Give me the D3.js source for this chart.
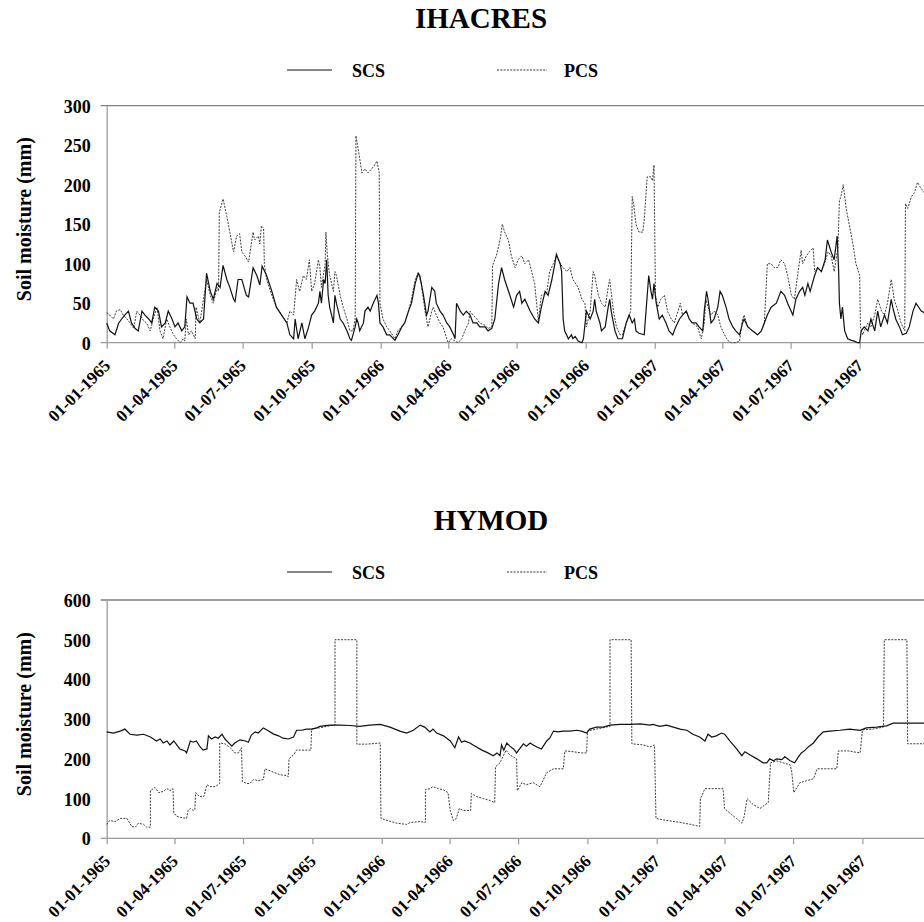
<!DOCTYPE html>
<html>
<head>
<meta charset="utf-8">
<script src="https://cdn.jsdelivr.net/npm/d3@7"></script>
<style>
  body { margin: 0; background: #fff; }
  svg text { font-family: "Liberation Serif", "Times New Roman", serif; font-weight: bold; fill: #000; }
</style>
</head>
<body>
<svg id="chart" width="924" height="922"></svg>
<script>
// values are [days since 01-01-1965, soil moisture (mm)]
var ihacresScs = [
  [0,25],[4,15],[11,10],[16,25],[20,30],[24,35],[29,40],[33,25],[38,18],[42,15],[47,40],[51,35],[56,30],[60,25],[64,45],[69,40],[73,20],[78,25],[82,40],[87,30],[91,20],[95,25],[100,15],[104,20],[107,58],[111,50],[115,50],[120,30],[124,25],[129,30],[133,88],[138,65],[142,55],[147,75],[151,70],[155,98],[160,80],[164,70],[169,55],[171,52],[175,80],[180,80],[186,60],[189,58],[195,95],[200,85],[204,73],[207,97],[213,85],[220,65],[226,45],[233,35],[240,25],[244,10],[249,5],[251,30],[255,5],[260,25],[264,5],[269,20],[273,35],[277,40],[282,50],
  [284,65],[286,50],[289,80],[291,75],[293,105],[295,60],[297,45],[302,25],[304,60],[306,50],[311,30],[315,25],[320,15],[324,5],[326,3],[331,20],[333,30],[335,25],[337,15],[342,25],[344,40],[348,45],[351,40],[355,50],[360,60],[362,50],[364,25],[368,20],[373,10],[377,10],[384,3],[388,10],[393,20],[397,25],[402,40],[406,50],[411,75],[415,88],[417,85],[422,60],[426,35],[428,40],[433,70],[437,65],[439,50],[444,40],[448,35],[453,25],[457,20],[462,10],[464,5],[466,50],[471,40],[475,35],[479,40],[484,35],[488,25],[493,25],[497,20],[504,20],[508,15],[513,18],[517,30],[522,75],[526,95],[530,80],[537,60],[542,45],[546,60],[550,65],[553,50],[557,55],[564,40],[570,30],[575,25],[579,45],[584,65],[588,60],[593,80],[597,100],[599,112],[604,100],[606,90],[608,30],[610,15],[615,5],[619,10],[621,5],[624,8],[628,2],[633,0],[635,5],[639,40],[644,30],[648,40],[650,55],[652,40],[657,25],[659,15],[664,20],[668,45],[670,55],[672,40],[677,15],[681,5],
  [687,5],[692,25],[696,35],[700,25],[703,30],[705,15],[709,12],[716,10],[722,85],[725,65],[727,55],[729,75],[732,50],[736,30],[740,35],[745,25],[749,15],[754,10],[758,20],[763,30],[767,35],[772,40],[776,30],[780,25],[785,25],[789,20],[794,15],[796,40],[799,65],[801,55],[805,25],[809,30],[814,45],[817,65],[820,60],[825,45],[829,30],[834,20],[838,15],[843,10],[847,25],[849,30],[854,20],[860,15],[867,10],[872,15],[876,25],[880,35],[885,45],[892,50],[898,65],[903,60],[907,50],[914,35],[918,55],[923,65],[927,70],[930,60],[934,75],[937,65],[943,85],[947,95],[952,90],[957,105],[960,130],[965,115],[969,105],[973,135],[975,90],[976,50],[978,30],[980,45],[983,15],[987,5],[992,3],[996,2],[1000,0],[1003,0],[1005,15],[1009,20],[1014,15],[1018,30],[1023,15],[1027,40],[1031,20],[1036,35],[1040,25],[1045,55],[1047,45],[1051,30],[1056,20],[1060,10],[1065,12],[1069,20],[1074,40],[1078,50],[1085,40],[1089,38],[1094,35]
];

var ihacresPcs = [
  [0,38],[4,35],[9,30],[13,40],[18,42],[22,35],[27,30],[31,25],[36,18],[40,40],[44,35],[49,28],[53,25],[58,15],[62,30],[67,45],[71,15],[75,5],[80,30],[84,20],[89,10],[93,5],[98,0],[102,5],[104,2],[106,30],[109,10],[113,15],[118,5],[119,45],[124,25],[133,80],[138,60],[142,50],[147,70],[149,65],[150,165],[155,182],[160,160],[164,140],[169,115],[173,135],[177,138],[180,115],[184,110],[189,102],[195,140],[197,130],[202,135],[204,125],[206,148],[209,145],[210,100],[213,80],[220,60],[226,45],[233,35],[240,25],[244,40],[249,35],[253,80],[257,65],[262,85],[266,80],[270,105],[273,65],[277,75],[282,105],
  [284,95],[286,70],[291,100],[292,140],[294,110],[297,85],[302,65],[304,90],[306,85],[311,60],[315,45],[320,30],[324,15],[328,15],[331,30],[332,262],[335,245],[340,215],[344,220],[348,215],[353,220],[357,225],[360,230],[363,215],[364,50],[368,30],[373,20],[377,15],[384,5],[388,15],[393,20],[397,25],[402,40],[406,55],[411,80],[415,88],[419,75],[424,40],[428,20],[433,40],[435,45],[439,35],[444,25],[448,20],[453,5],[455,0],[459,5],[464,2],[468,0],[473,5],[477,15],[482,25],[484,40],[488,35],[493,30],[497,25],[504,22],[508,18],[513,20],[514,98],[519,110],[524,130],[527,150],[530,140],[535,130],[539,110],[544,95],[548,105],[553,110],[557,100],[562,105],[566,90],[570,75],[575,28],[579,60],[586,62],[590,90],[595,100],[599,110],[604,100],[608,95],[613,90],[617,95],[621,80],[628,70],[633,55],[637,50],[639,20],[644,40],[648,90],[650,85],[655,60],[659,50],[664,45],[668,70],[670,80],[675,40],[679,20],[684,10],
  [687,10],[692,25],[696,35],[698,40],[700,185],[702,175],[705,150],[709,140],[714,140],[716,155],[720,210],[725,210],[727,205],[729,225],[731,60],[734,45],[738,55],[743,60],[747,40],[752,30],[756,25],[761,40],[764,50],[767,35],[772,40],[776,30],[780,25],[787,20],[792,5],[796,25],[798,55],[801,45],[805,35],[809,40],[814,35],[818,20],[823,10],[827,3],[832,0],[838,0],[843,2],[847,30],[849,35],[854,20],[861,15],[867,10],[872,15],[876,25],[880,100],[885,100],[889,95],[894,95],[898,105],[903,100],[907,85],[912,60],[916,55],[921,90],[925,117],[927,100],[932,110],[936,115],[941,120],[943,90],[947,95],[952,90],[956,100],[961,115],[965,110],[969,90],[974,120],[976,180],[978,185],[981,200],[985,170],[989,150],[994,125],[998,100],[1003,85],[1004,20],[1007,10],[1009,15],[1014,25],[1018,20],[1023,35],[1027,55],[1032,40],[1036,35],[1040,50],[1045,80],[1049,55],[1054,40],[1058,25],[1063,15],[1064,176],[1067,170],[1072,185],[1076,190],[1080,203],[1085,195],[1089,190],[1094,185]
];

var hymodScs = [
  [0,268],[9,265],[18,270],[24,275],[31,262],[40,260],[49,262],[58,255],[62,250],[66,245],[71,250],[75,240],[80,245],[84,235],[89,245],[93,235],[97,225],[104,220],[106,215],[111,245],[115,242],[119,245],[124,230],[128,222],[133,225],[135,258],[139,250],[144,255],[148,252],[153,262],[157,250],[161,242],[166,232],[170,240],[177,248],[184,245],[188,242],[192,260],[197,268],[201,265],[208,278],[215,270],[221,263],[228,258],[234,252],[241,250],[248,255],[252,272],[259,272],[265,275],[272,275],[279,278],
  [283,282],[296,285],[310,285],[323,284],[336,282],[349,285],[363,287],[376,280],[389,270],[398,265],[407,272],[416,285],[422,280],[429,268],[433,275],[438,265],[447,258],[456,245],[462,228],[467,255],[471,242],[475,245],[482,240],[489,232],[498,222],[506,215],[513,208],[518,215],[522,208],[524,235],[527,222],[531,240],[535,232],[540,225],[544,215],[548,225],[553,238],[557,232],[562,240],[566,235],[571,230],[577,225],[584,245],[588,252],[593,270],[599,268],[606,270],[615,270],[624,272],[630,270],[637,265],[641,275],[650,280],[659,280],[668,285],[681,287],
  [694,287],[708,288],[721,285],[725,287],[734,282],[743,285],[752,280],[761,275],[770,272],[778,262],[787,255],[794,245],[798,262],[803,255],[809,258],[816,265],[820,262],[827,245],[836,225],[843,208],[847,218],[854,210],[863,200],[871,190],[876,190],[880,200],[885,195],[889,200],[896,198],[900,205],[907,195],[913,190],[918,205],[922,215],[927,222],[931,230],[938,240],[944,255],[951,268],[960,270],[973,272],[986,275],[1000,272],[1008,278],[1022,280],[1035,283],[1044,290],[1062,290],[1084,290],[1094,290]
];

var hymodPcs = [
  [0,35],[4,45],[11,42],[18,50],[27,50],[33,30],[38,28],[42,38],[49,35],[53,28],[58,28],[58,120],[64,128],[69,115],[75,118],[80,125],[84,120],[88,125],[89,65],[93,55],[100,52],[106,50],[108,70],[111,75],[115,70],[117,72],[118,115],[123,105],[129,105],[133,135],[137,130],[144,130],[150,138],[150,240],[157,238],[164,228],[170,215],[175,215],[179,228],[180,143],[186,138],[190,138],[195,148],[201,145],[208,148],[210,175],[217,170],[223,165],[230,160],[239,158],[241,155],[242,200],[248,210],[252,222],[259,222],[271,222],[272,275],[279,278],
  [283,278],[292,282],[303,285],[303,500],[332,500],[332,237],[345,237],[363,240],[364,50],[372,45],[385,38],[398,35],[403,40],[416,42],[423,40],[423,123],[429,125],[433,130],[440,125],[447,122],[453,115],[456,70],[460,45],[464,50],[468,75],[473,70],[483,70],[484,113],[491,105],[500,100],[509,95],[515,90],[516,180],[522,190],[530,222],[535,210],[544,200],[545,120],[551,140],[557,135],[566,140],[575,130],[584,165],[593,175],[606,175],[608,220],[619,218],[630,215],[637,215],[638,270],[650,275],[663,280],[668,282],[668,500],[681,500],
  [696,500],[697,238],[712,235],[721,230],[727,235],[729,50],[743,45],[761,40],[775,35],[787,30],[788,100],[794,125],[805,125],[818,125],[820,75],[829,60],[836,50],[843,38],[846,55],[850,100],[858,85],[867,75],[878,90],[881,190],[889,195],[898,190],[907,185],[909,170],[912,115],[920,140],[929,145],[938,150],[943,175],[955,175],[969,175],[971,220],[984,220],[1000,215],[1003,273],[1017,275],[1031,280],[1032,500],[1050,500],[1062,500],[1063,238],[1084,238],[1094,238]
];

var seriesNames = ["SCS", "PCS"];
var ihacresTicks = [0, 50, 100, 150, 200, 250, 300];
var hymodTicks = [0, 100, 200, 300, 400, 500, 600];
var startDay = Date.UTC(1965, 0, 1);
var endDay = Date.UTC(1967, 11, 31);
var serif = "'Liberation Serif', 'Times New Roman', serif";

function toDate(d) {
    return new Date(startDay + d * 864e5);
}

var svg = d3.select("#chart");
svg.append("rect").attr("width", 924).attr("height", 922).attr("fill", "#fff");

function drawPanel(opt) {
    var x = d3.scaleUtc()
        .domain([new Date(startDay), new Date(endDay)])
        .range([opt.left, opt.right]);
    var y = d3.scaleLinear()
        .domain([0, opt.ticks[opt.ticks.length - 1]])
        .range([opt.bottom, opt.top]);

    // title
    svg.append("text")
        .attr("x", opt.titleX).attr("y", opt.titleY)
        .attr("text-anchor", "middle")
        .style("font-size", "29px")
        .text(opt.title);

    // legend
    var legend = [
        { name: seriesNames[0], x1: 287, x2: 332, tx: 352, dash: null },
        { name: seriesNames[1], x1: opt.pcsX1, x2: 547, tx: 564, dash: "2,1.3" }
    ];
    legend.forEach(function(l) {
        svg.append("line")
            .attr("x1", l.x1).attr("x2", l.x2)
            .attr("y1", opt.legendY).attr("y2", opt.legendY)
            .attr("stroke", l.dash ? "#333" : "#111")
            .attr("stroke-width", 1)
            .attr("stroke-dasharray", l.dash);
        svg.append("text")
            .attr("x", l.tx).attr("y", opt.legendY + 7)
            .style("font-size", "18px")
            .text(l.name);
    });

    // y axis title
    svg.append("text")
        .attr("transform", "translate(31," + ((opt.top + opt.bottom) / 2 - 5) + ") rotate(-90)")
        .attr("text-anchor", "middle")
        .style("font-size", "20px")
        .text("Soil moisture (mm)");

    // top border of the plot area
    svg.append("line")
        .attr("x1", opt.left - 6).attr("x2", 924)
        .attr("y1", opt.top).attr("y2", opt.top)
        .attr("stroke", "#808080").attr("stroke-width", 1.3);

    var yAxis = svg.append("g")
        .attr("transform", "translate(" + opt.left + ",0)")
        .attr("font-family", serif)
        .call(d3.axisLeft(y).tickValues(opt.ticks).tickSize(0).tickPadding(16));
    yAxis.select(".domain").attr("stroke", "#9a9a9a").attr("stroke-width", 1.3);
    yAxis.selectAll("text").style("font-size", "18px").attr("dy", "0.36em");

    var xAxis = svg.append("g")
        .attr("transform", "translate(0," + opt.bottom + ")")
        .attr("font-family", serif)
        .call(d3.axisBottom(x)
            .tickValues(d3.utcMonth.every(3).range(new Date(startDay), new Date(endDay)))
            .tickFormat(d3.utcFormat("%d-%m-%Y"))
            .tickSize(6).tickSizeOuter(0));
    xAxis.select(".domain").remove();
    xAxis.selectAll(".tick line").attr("stroke", "#9a9a9a").attr("stroke-width", 1.2);
    xAxis.selectAll("text")
        .style("font-size", "17px")
        .attr("text-anchor", "end")
        .attr("dy", null)
        .attr("y", 0)
        .attr("transform", "translate(4,24) rotate(-45)");

    // zero line, extended a little to the left of the y axis
    svg.append("line")
        .attr("x1", opt.left - 6).attr("x2", 924)
        .attr("y1", opt.bottom).attr("y2", opt.bottom)
        .attr("stroke", "#9a9a9a").attr("stroke-width", 1.3);

    var line = d3.line()
        .x(function(d) { return x(toDate(d[0])); })
        .y(function(d) { return y(d[1]); });

    svg.append("path")
        .datum(opt.pcs)
        .attr("fill", "none")
        .attr("stroke", "#3a3a3a")
        .attr("stroke-width", 1)
        .attr("stroke-dasharray", "2,1.3")
        .attr("d", line);

    svg.append("path")
        .datum(opt.scs)
        .attr("fill", "none")
        .attr("stroke", "#111")
        .attr("stroke-width", 1.2)
        .attr("d", line);
}

drawPanel({
    title: "IHACRES", titleX: 481, titleY: 28, legendY: 70, pcsX1: 497,
    left: 106.7, right: 928, top: 105.7, bottom: 342.7,
    ticks: ihacresTicks, scs: ihacresScs, pcs: ihacresPcs
});

drawPanel({
    title: "HYMOD", titleX: 491, titleY: 530, legendY: 572, pcsX1: 507,
    left: 106.7, right: 931, top: 600, bottom: 838.3,
    ticks: hymodTicks, scs: hymodScs, pcs: hymodPcs
});
</script>
</body>
</html>
